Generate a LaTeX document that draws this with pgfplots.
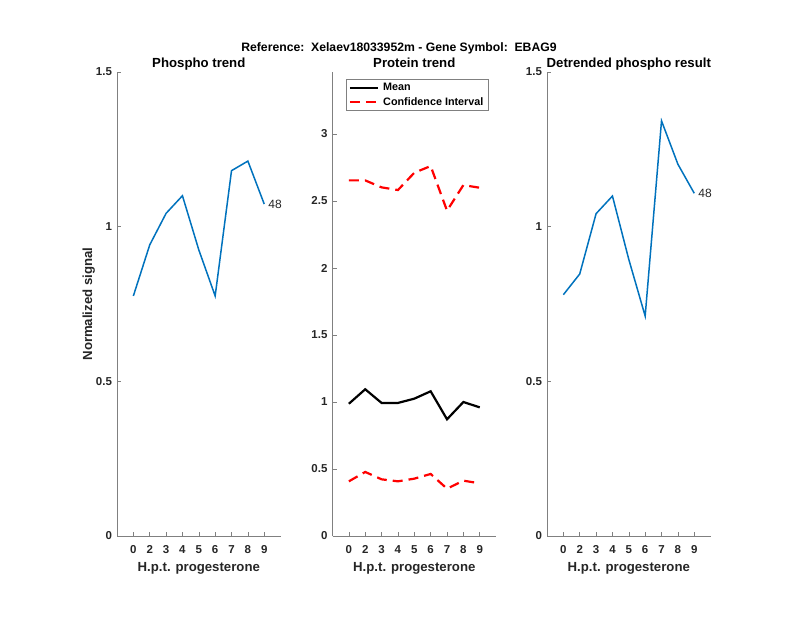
\documentclass[border=0pt]{standalone}
\usepackage{pgfplots}
\pgfplotsset{compat=1.18}
\usepackage{fontspec}
\setmainfont{Liberation Sans}

\definecolor{mblue}{rgb}{0,0.447,0.741}
\definecolor{axgray}{gray}{0.5}
\definecolor{txt}{gray}{0.15}

\pgfplotsset{
  panel/.style={
    scale only axis, width=163.6pt, height=464pt, anchor=south west,
    xmin=0, xmax=10, ymin=0,
    axis lines*=left,
    axis line style={axgray, line width=0.6pt},
    xtick={1,...,9}, xticklabels={0,2,3,4,5,6,7,8,9},
    tick align=inside, major tick length=4pt,
    tick style={axgray, line width=0.6pt},
    ticklabel style={font=\fontsize{11.5}{13}\selectfont\bfseries, text=txt},
    xticklabel style={anchor=base, yshift=-17.2pt},
    yticklabel style={anchor=east, xshift=-1.5pt},
    /pgf/number format/assume math mode=true,
    xlabel={H.p.t. progesterone},
    xlabel style={font=\fontsize{13.2}{15}\selectfont\bfseries, text=txt,
      at={(0.5,0)}, anchor=base, yshift=-35pt},
    title style={font=\fontsize{13.2}{15}\selectfont\bfseries, text=black,
      at={(0.5,1)}, anchor=base, yshift=-1.7pt},
    clip=false,
  },
}

\begin{document}
\begin{tikzpicture}
\useasboundingbox (0pt,0pt) rectangle (800pt,618pt);
\node[font=\fontsize{12.2}{14}\selectfont\bfseries] at (399pt,570pt) {Reference:\ \ Xelaev18033952m - Gene Symbol:\ \ EBAG9};

% phospho trend
\begin{axis}[panel, at={(117pt,82pt)}, ymax=1.5,
  ytick={0,0.5,1,1.5}, yticklabels={0,0.5,1,1.5},
  title={Phospho trend},
  ylabel={Normalized signal},
  ylabel style={font=\fontsize{13.2}{15}\selectfont\bfseries, text=txt,
    at={(-0.172,0.5)}, anchor=center}]
\addplot[mblue, line width=1.5pt] coordinates {
  (1,0.776)(2,0.941)(3,1.043)(4,1.100)(5,0.925)(6,0.776)(7,1.181)(8,1.212)(9,1.073)};
\node[anchor=west, font=\fontsize{12}{14}\selectfont, text=txt, inner sep=0pt, xshift=4pt] at (axis cs:9,1.073) {48};
\end{axis}

% protein trend
\begin{axis}[panel, at={(332.5pt,82pt)}, ymax=3.463,
  ytick={0,0.5,1,1.5,2,2.5,3}, yticklabels={0,0.5,1,1.5,2,2.5,3},
  title={Protein trend},
  legend style={at={(0.0795,0.984)}, anchor=north west, draw=axgray,
    font=\fontsize{10.8}{12}\selectfont\bfseries, text=black,
    row sep=2.3pt, inner xsep=3pt, inner ysep=2.5pt,
    nodes={inner sep=1.3pt}},
  legend cell align=left,
  legend image code/.code={\draw[#1] (0pt,0pt) -- (28pt,0pt); \path (31pt,0pt);}]
\addplot[black, line width=2.2pt] coordinates {
  (1,0.987)(2,1.095)(3,0.993)(4,0.993)(5,1.025)(6,1.080)(7,0.871)(8,1.000)(9,0.960)};
\addlegendentry{Mean}
\addplot[red, line width=2.2pt, dash pattern=on 10pt off 6pt] coordinates {
  (1,2.654)(2,2.654)(3,2.602)(4,2.582)(5,2.711)(6,2.761)(7,2.428)(8,2.619)(9,2.599)};
\addlegendentry{Confidence Interval}
\addplot[red, line width=2.2pt, dash pattern=on 10pt off 6pt, forget plot] coordinates {
  (1,0.408)(2,0.478)(3,0.423)(4,0.408)(5,0.428)(6,0.463)(7,0.353)(8,0.413)(9,0.393)};
\end{axis}

% detrended
\begin{axis}[panel, at={(547pt,82pt)}, ymax=1.5,
  ytick={0,0.5,1,1.5}, yticklabels={0,0.5,1,1.5},
  title={Detrended phospho result}]
\addplot[mblue, line width=1.5pt] coordinates {
  (1,0.780)(2,0.847)(3,1.042)(4,1.099)(5,0.894)(6,0.711)(7,1.342)(8,1.202)(9,1.108)};
\node[anchor=west, font=\fontsize{12}{14}\selectfont, text=txt, inner sep=0pt, xshift=4pt] at (axis cs:9,1.108) {48};
\end{axis}
\end{tikzpicture}
\end{document}
